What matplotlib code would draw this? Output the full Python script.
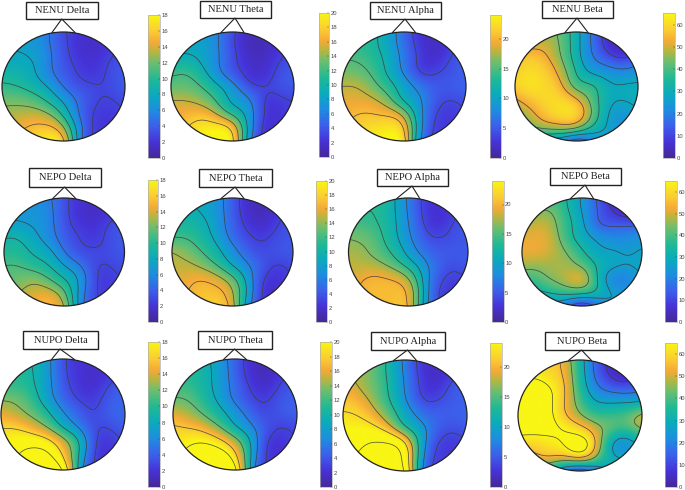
import numpy as np
import matplotlib
matplotlib.use("Agg")
import matplotlib.pyplot as plt
from matplotlib.colors import LinearSegmentedColormap
from matplotlib.patches import Ellipse, Rectangle
from matplotlib.tri import Triangulation, CubicTriInterpolator

# --- scalp values on a 9x9 sampling grid (rows top to bottom, columns left to right)
NENU_DELTA = [[7,7,7,5.2,3,2,1.8,2.5,3],[7.2,7.4,6.8,5.3,3.2,1.8,1.5,2.2,3],[8,7.8,7.5,5.6,3.4,2.2,1.8,2.8,3.6],
              [9.3,8.9,7.9,5.6,3.8,2.6,2.2,3.1,3.8],[10.3,10,9,7.4,4.8,3.4,2.9,3,4],[12,12,11.3,9.5,7,4.5,3,2.7,3.2],
              [13,13.2,13.6,12.7,9.3,4.8,2.6,2.2,3],[14,14.6,15.4,15.6,13,6,2.5,2.2,3],[14,15,16.5,18,16.5,6,2.5,2,3]]
NENU_THETA = [[8,8,7.8,6.3,3.5,1.5,1.5,2.5,3.5],[8.5,8.6,8.3,6.3,3.3,1.3,1.2,2,3.8],[9.5,9.5,8.6,6.4,3.6,1.8,1.5,2.8,4],
              [11.5,12,10,6.8,4.1,2.3,1.9,3.5,4.3],[13,13,12,9.6,7,3.8,3,3.6,4.2],[15,15,14,11.6,8.2,6.7,3,2.6,3],
              [16,16.5,17,14.8,11.2,8,2.9,2.2,3],[16.5,18,19.3,19.5,17.5,8.5,2.5,2,3],[16.5,18.5,20,21,19.5,7.5,2,2,3]]
NENU_ALPHA = [[13,13.5,13,10,6,2.5,2,3,4.5],[14,13.5,12.8,10,6.3,3,1.8,3,5],[15,14.8,13.5,11,6.8,3.3,2.2,4.2,5.5],
              [16.5,16,14.5,11.4,7.5,3.8,3.8,4.6,5.5],[18,18,16,13.5,10,7,5,5,5.5],[19,19,18.5,16,11.3,8.5,5,3.9,4.8],
              [19.5,20.5,20.5,20,17,9.3,4,3,4],[20,21.5,22.5,23,21,9.5,3.5,3,4],[20,22,24,25,23,8,3.5,3,4]]
NENU_BETA = [[40,42,46,42,31,18,6,4,8],[48,50,50,43,31,18,7,3,8],[55,58,54,44.5,32,20,14,10,15],
             [58,61,58,49,35,27,24,22,25],[58,62,60,54,40,38,30,29,29],[50,56,60,60,54,41,30,28,30],
             [44,50,57,61,60,44,28,24,27],[30,43,47,49,47,35,27,23,25],[28,28,22,18,8,18,25,25,25]]
NEPO_DELTA = [[6,6,6,5.3,3.2,2,1.6,2.5,3.5],[6.5,6.5,6.5,5.6,3.3,1.8,1.4,2,3.5],[7.5,7.3,6.8,5.7,3.5,2.2,1.9,3,3.7],
              [9,9,7.6,6,4,2.8,2.3,3.2,3.8],[9.8,9.8,8.7,7.6,5,3.3,3,3.2,3.8],[11,11,10,9,7,5.2,3,2.8,3.2],
              [11.5,12,12.5,11,9,6.8,3,2.4,3],[12,13,14,14,11.5,6.5,3,2.3,3],[12,13.5,15,15.5,13.5,6,3,2.3,3]]
NEPO_THETA = [[9,9,8.6,7.1,4.2,1.8,1.2,2.2,3.5],[9.5,9.5,8.8,7.2,4.3,1.8,1.2,2.4,3.8],[11,10.6,9.8,7.5,4.6,2.5,1.8,3,4],
              [12,12,10.5,8.3,5.2,3.4,2.8,3.6,4],[14.8,13.7,12,9.8,7,4.6,3.4,3.8,4.1],[15,15,14,12,8.8,6.3,4,2.8,3.5],
              [15.5,16,16.5,15.5,13,8,3,2.2,3.2],[16,16.5,17.2,17.2,15,8.5,2.5,2,3],[16,17,18,18,16,7,2.5,2,3]]
NEPO_ALPHA = [[13,13,13.5,11,7,3.5,2.5,3.5,5],[13.5,13.5,13.3,11,7.2,3.5,2.3,3.3,5],[15,14.5,13.6,11.2,7.6,4,2.6,4.2,5],
              [16.5,16,14.4,11.5,8.2,5,4,4.5,5],[17.5,17,15.2,13,9.5,6.5,5,5,4.8],[18,18,17.5,15.5,12.5,8.8,5.5,4.3,5],
              [18.5,19.5,20,19.5,17,10,4.6,3.4,3.8],[18.5,20,20.5,20.5,19.5,10.5,3.8,3,3.5],[18.5,20,20.5,21,20,10,3.8,3,3.5]]
NEPO_BETA = [[40,40,39,34,25,14,6,4,6],[42,44,44,35,26,15,8,4,7],[48,50,47,37,28,16,14,14,15],
             [52,52,49,38,30,25,22,22,24],[52,52,49,44,35,28,27,25,27],[47,46,47,47,43,33,28,26,28],
             [38,40,45,49,52,34,21,20,26],[30,32,35,38,38,33,26,24,25],[28,26,22,14,3,14,24,25,25]]
NUPO_DELTA = [[9,9,9,6.8,3.2,2,1.6,2.2,3.5],[10,10,9.2,6.8,3.4,2,1.5,2.2,3.8],[10.5,10.5,9.5,6.9,3.8,2.2,1.8,3.2,4],
              [12.5,12.2,10.5,7.5,4.5,3,2.5,3.8,4.2],[14.5,13.5,12,9.8,6.3,4.2,3,3.9,4.3],[16.5,16.5,15,12.7,9,6,3.2,3,3.8],
              [17.5,18.5,19,18,14,9.5,3.2,2.2,3.2],[18,20,21.5,21,16.5,9,2.8,2,3],[18,20.5,23,23.5,21,8,2.5,2,3]]
NUPO_THETA = [[10.5,10.5,9.8,7.5,4.5,2,1.2,2.2,3.6],[11,11,10,7.8,4.6,2,1.2,2.4,4],[12,11.8,10.2,7.8,5,2.8,1.8,3.4,4.2],
              [13.3,13,11,8.4,5.5,3.5,2.8,4,4.4],[16,14.8,12.8,10.3,7.5,5,3.4,4,4.4],[18,17.6,16.5,13.5,9.5,6.8,4,2.8,3.4],
              [19,20,20.5,19,15,9,3,2.2,3.2],[19.5,21.5,23,22.5,19,9,2.8,2,3],[19.5,22,24,25,23,8,2.5,2,3]]
NUPO_ALPHA = [[17,17,16,12,7,3,2,3,5],[18,17.5,15.5,12.2,7.3,3.2,1.8,3.2,5.2],[20,18,16,12.6,7.7,3.6,2.4,4.6,5.5],
              [21,20,17,13.2,8.4,4.4,4,5,5.5],[22.5,22,19.5,15.5,10.5,7,5.5,5.3,5.5],[24,24,23.5,20,14,9.8,5.5,4.2,5],
              [25,26,27.5,27.5,23,11,4,3,4],[25.5,27.5,29,29.5,26,10,3.5,3,4],[25.5,28,30,31,28,9,3.5,3,4]]
NUPO_BETA = [[60,60,60,52,33,15,5,3,8],[62,63,60,54,34,16,6,3,9],[65,70,66,56,36,20,14,12,17],
             [70,72,68,55,40,28,27,27,28],[72,72,68,56,46,38,38,40,50],[68,68,68,65,60,50,41,38,46],
             [60,60,62,66,72,56,28,22,30],[45,52,56,54,60,46,30,28,30],[40,35,28,12,3,15,30,32,32]]

CONDITIONS = ["NENU", "NEPO", "NUPO"]
BANDS = ["Delta", "Theta", "Alpha", "Beta"]
VALUES = [[NENU_DELTA, NENU_THETA, NENU_ALPHA, NENU_BETA],
          [NEPO_DELTA, NEPO_THETA, NEPO_ALPHA, NEPO_BETA],
          [NUPO_DELTA, NUPO_THETA, NUPO_ALPHA, NUPO_BETA]]
VMAX = [18, 20, 24, 65]
TICKS = [list(range(0, 19, 2)), list(range(0, 21, 2)), [0, 5, 10, 15, 20], [0, 10, 20, 30, 40, 50, 60]]
LEVELS = [[[2.8, 5, 7.5, 10, 12.5, 15], [3, 6, 9, 12, 15, 18], [4, 8, 12, 15, 18, 20.5], [10, 19, 28, 36, 44, 52]],
          [[2.8, 5, 7, 9, 11, 13], [3, 6, 9, 12, 14.5, 16.5], [4, 7.5, 10.5, 13.5, 16.5, 19.5], [8, 15, 26, 34, 44]],
          [[3, 6, 9, 12.5, 16.5, 20], [3, 6, 9, 13, 17.5, 20.5], [4, 8, 13, 18, 22, 27], [8, 18, 28, 45, 55, 65]]]

# --- layout in reference pixels: head (x0,x1,y0,y1), label box (x0,x1,y0,y1), colorbar (x0,x1,y0,y1)
HEADS = [[(2, 125, 32, 141), (171, 294, 32, 141), (342, 466, 32, 141), (515, 638, 32, 141)],
         [(4, 124.5, 198, 306), (172, 293, 198, 306), (348.5, 468, 198, 306), (522, 642, 198, 306)],
         [(1, 125, 359, 470), (173, 297, 359, 470), (343, 467, 360, 471), (518, 642, 360, 471)]]
BOXES = [[(26.5, 98, 2, 19), (200, 271, 1, 18), (370, 441, 2, 19), (542, 613, 1, 18)],
         [(29, 101, 168, 187), (199, 272, 169, 187), (377, 448, 169, 186), (550, 621, 168, 185)],
         [(23, 98, 331, 349), (198, 272, 331, 349), (371, 445, 332, 350), (545, 619, 332, 350)]]
CBARS = [[(148, 160, 15, 158), (318.5, 329, 13, 157), (489.5, 501, 15, 158), (663, 675, 13.5, 158)],
         [(147.5, 158, 180, 322), (316, 327, 181, 322), (492, 503.5, 181, 322), (665, 677, 181, 322)],
         [(148, 160, 342, 487), (320, 332, 342, 487), (490, 502, 343, 487), (665, 677, 343, 487)]]

W, H = 685, 490
CMAP_STOPS = [(0.00, (70, 40, 150)), (0.11, (70, 50, 215)), (0.22, (60, 95, 235)), (0.33, (30, 140, 225)),
              (0.44, (10, 170, 190)), (0.55, (30, 185, 150)), (0.67, (110, 190, 110)), (0.75, (190, 180, 60)),
              (0.81, (245, 170, 55)), (0.89, (250, 205, 50)), (1.00, (249, 245, 20))]
parula = LinearSegmentedColormap.from_list(
    "parula", [(p, tuple(v / 255 for v in col)) for p, col in CMAP_STOPS], N=256)


def rect(box):
    x0, x1, y0, y1 = box
    return [x0 / W, 1 - y1 / H, (x1 - x0) / W, (y1 - y0) / H]


def soften(field, sigma=11):
    """Separable Gaussian display smoothing of the interpolated surface."""
    n = int(3 * sigma)
    k = np.exp(-0.5 * (np.arange(-n, n + 1) / sigma) ** 2)
    k /= k.sum()
    pad = np.pad(field, n, mode="edge")
    pad = np.apply_along_axis(lambda v: np.convolve(v, k, mode="same"), 0, pad)
    pad = np.apply_along_axis(lambda v: np.convolve(v, k, mode="same"), 1, pad)
    return pad[n:-n, n:-n]


fig = plt.figure(figsize=(W / 100, H / 100), dpi=100, facecolor="white")
overlay = fig.add_axes([0, 0, 1, 1], zorder=5)
overlay.set_xlim(0, W)
overlay.set_ylim(H, 0)
overlay.axis("off")

gx = np.linspace(-1, 1, 9)
gy = np.linspace(1, -1, 9)
GX, GY = np.meshgrid(gx, gy)
tri = Triangulation(GX.ravel(), GY.ravel())
fx = np.linspace(-1, 1, 240)
FX, FY = np.meshgrid(fx, fx)

for r, cond in enumerate(CONDITIONS):
    for c, band in enumerate(BANDS):
        z = np.array(VALUES[r][c], dtype=float)
        Zf = CubicTriInterpolator(tri, z.ravel(), kind="min_E")(FX, FY)
        Zf = soften(np.ma.filled(Zf, np.nan))

        ax = fig.add_axes(rect(HEADS[r][c]))
        ax.set_xlim(-1, 1)
        ax.set_ylim(-1, 1)
        ax.axis("off")
        head = Ellipse((0, 0), 2, 2, transform=ax.transData, facecolor="none",
                       edgecolor="#222222", linewidth=0.9, zorder=4, clip_on=False)
        ax.add_patch(head)
        im = ax.imshow(Zf, origin="lower", extent=(-1, 1, -1, 1), cmap=parula, vmin=0,
                       vmax=VMAX[c], aspect="auto", interpolation="bilinear", zorder=1)
        im.set_clip_path(head)
        cs = ax.contour(FX, FY, Zf, levels=LEVELS[r][c], colors="#3c3c3c", linewidths=0.55,
                        alpha=0.85, zorder=2)
        cs.set_clip_path(head)

        cax = fig.add_axes(rect(CBARS[r][c]))
        cb = fig.colorbar(im, cax=cax, ticks=TICKS[c])
        cb.outline.set_edgecolor("#b0b0b0")
        cb.outline.set_linewidth(0.5)
        cax.tick_params(direction="in", length=1.5, width=0.3, labelsize=4.2, pad=1.2,
                        colors="#444444", labelfontfamily="Liberation Sans")

        bx0, bx1, by0, by1 = BOXES[r][c]
        hx0, hx1, hy0, hy1 = HEADS[r][c]
        xm = (hx0 + hx1) / 2
        overlay.add_patch(Rectangle((bx0, by0), bx1 - bx0, by1 - by0, facecolor="white",
                                    edgecolor="#222222", linewidth=1.0))
        overlay.plot([xm - 11.5, (bx0 + bx1) / 2 - 0.5, xm + 11.5], [hy0 + 0.5, by1, hy0 + 0.5],
                     color="#222222", lw=0.8, solid_joinstyle="miter")
        overlay.text((bx0 + bx1) / 2, (by0 + by1) / 2 + 0.3, f"{cond} {band}",
                     family="Liberation Serif", fontsize=7.6, ha="center", va="center", color="#222222")

fig.savefig("out.png", dpi=100, facecolor="white")
